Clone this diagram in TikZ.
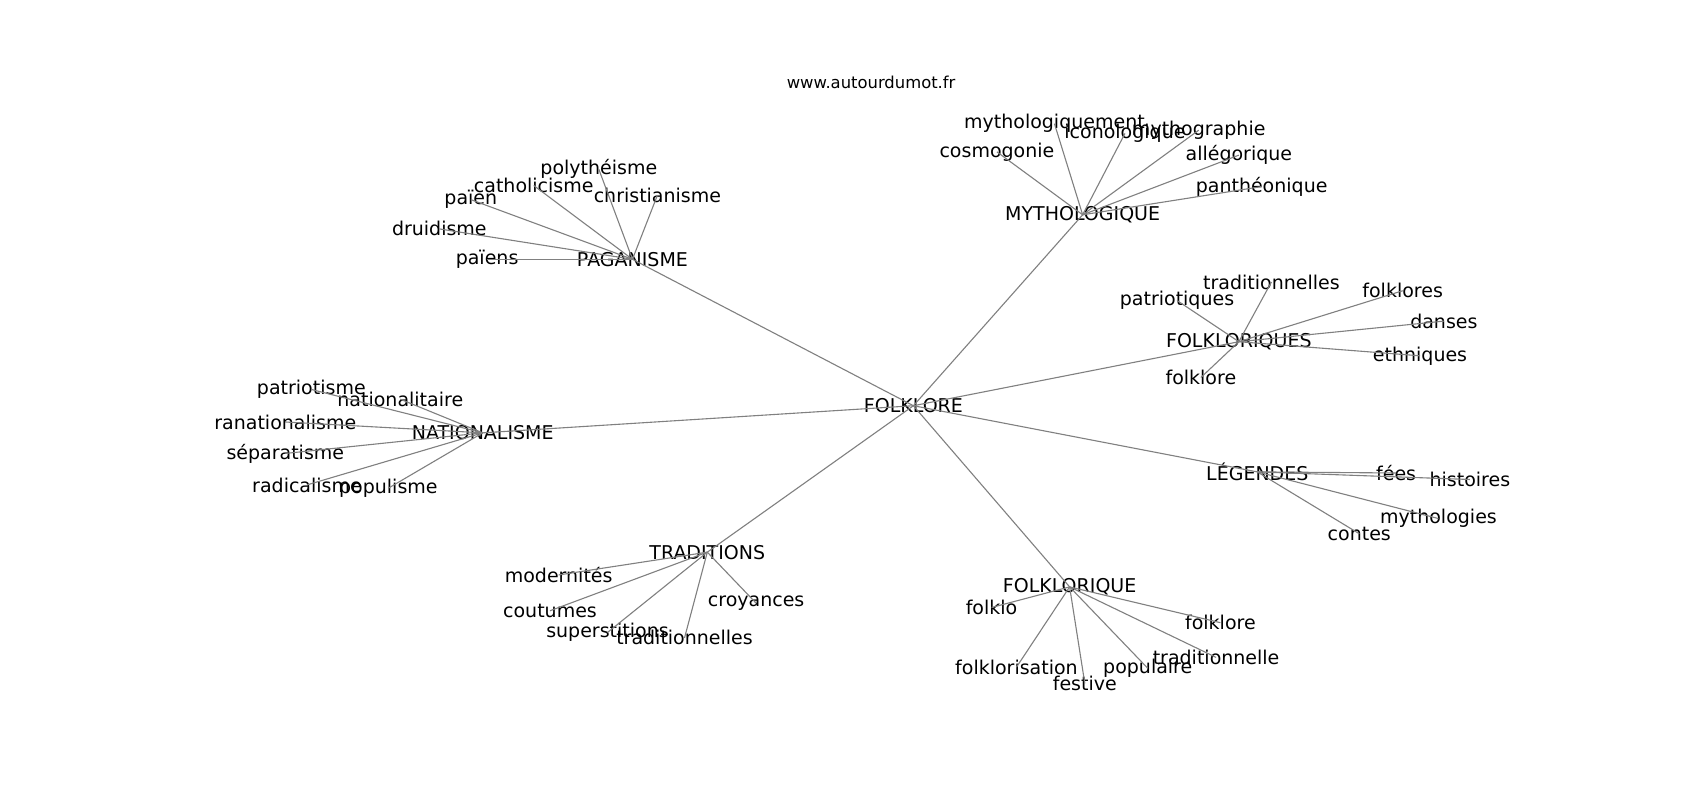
\documentclass[tikz,border=0pt]{standalone}
\usepackage{fontspec}
\setmainfont{DejaVu Sans}
\begin{document}
\begin{tikzpicture}[x=1.0848pt,y=-1.0848pt,
  lbl/.style={inner sep=0pt,anchor=center,font=\fontsize{19}{22}\selectfont,text=black},
  ttl/.style={inner sep=0pt,anchor=center,font=\fontsize{16.4}{19}\selectfont,text=black},
  edge/.style={draw=gray,line width=1.1pt}]
\useasboundingbox (0,0) rectangle (1567.1,737.5);
\fill[white] (0,0) rectangle (1567.1,737.5);
\node[ttl] (title) at (803,76) {www.autourdumot.fr};
% center and hubs
\node[lbl] (folk) at (842,374) {FOLKLORE};
\node[lbl] (pag) at (583,239) {PAGANISME};
\node[lbl] (myth) at (998,198) {MYTHOLOGIQUE};
\node[lbl] (fqs) at (1142,315) {FOLKLORIQUES};
\node[lbl] (leg) at (1159,435) {LÉGENDES};
\node[lbl] (fq) at (986,541) {FOLKLORIQUE};
\node[lbl] (trad) at (652,509) {TRADITIONS};
\node[lbl] (nat) at (445,399) {NATIONALISME};
% PAGANISME leaves
\node[lbl] (p1) at (552,156) {polythéisme};
\node[lbl] (p2) at (492,171) {catholicisme};
\node[lbl] (p3) at (606,180) {christianisme};
\node[lbl] (p4) at (434,184) {païen};
\node[lbl] (p5) at (405,211) {druidisme};
\node[lbl] (p6) at (449,239) {païens};
% MYTHOLOGIQUE leaves
\node[lbl] (m1) at (972,114) {mythologiquement};
\node[lbl] (m2) at (1037,123) {iconologique};
\node[lbl] (m3) at (1105,120) {mythographie};
\node[lbl] (m4) at (1142,143) {allégorique};
\node[lbl] (m5) at (1163,172) {panthéonique};
\node[lbl] (m6) at (919,140) {cosmogonie};
% FOLKLORIQUES leaves
\node[lbl] (s1) at (1172,260) {traditionnelles};
\node[lbl] (s2) at (1085,277) {patriotiques};
\node[lbl] (s3) at (1293,268) {folklores};
\node[lbl] (s4) at (1331,296) {danses};
\node[lbl] (s5) at (1309,328) {ethniques};
\node[lbl] (s6) at (1107,348) {folklore};
% LÉGENDES leaves
\node[lbl] (l1) at (1287,436) {fées};
\node[lbl] (l2) at (1355,442) {histoires};
\node[lbl] (l3) at (1326,478) {mythologies};
\node[lbl] (l4) at (1253,492) {contes};
% FOLKLORIQUE leaves
\node[lbl] (q1) at (914,560) {folklo};
\node[lbl] (q2) at (1125,574) {folklore};
\node[lbl] (q3) at (1121,606) {traditionnelle};
\node[lbl] (q4) at (1058,616) {populaire};
\node[lbl] (q5) at (1000,630) {festive};
\node[lbl] (q6) at (937,615) {folklorisation};
% TRADITIONS leaves
\node[lbl] (t1) at (515,530) {modernités};
\node[lbl] (t2) at (507,563) {coutumes};
\node[lbl] (t3) at (560,583) {superstitions};
\node[lbl] (t4) at (631,588) {traditionnelles};
\node[lbl] (t5) at (697,556) {croyances};
% NATIONALISME leaves
\node[lbl] (n1) at (287,359) {patriotisme};
\node[lbl] (n2) at (369,368) {nationalitaire};
\node[lbl] (n3) at (263,389) {ranationalisme};
\node[lbl] (n4) at (263,418) {séparatisme};
\node[lbl] (n5) at (283,447) {radicalisme};
\node[lbl] (n6) at (358,450) {populisme};
% edges
\foreach \h in {pag,myth,fqs,leg,fq,trad,nat}
  \draw[edge] (folk.center) -- (\h.center);
\foreach \l in {p1,p2,p3,p4,p5,p6}
  \draw[edge] (pag.center) -- (\l.center);
\foreach \l in {m1,m2,m3,m4,m5,m6}
  \draw[edge] (myth.center) -- (\l.center);
\foreach \l in {s1,s2,s3,s4,s5,s6}
  \draw[edge] (fqs.center) -- (\l.center);
\foreach \l in {l1,l2,l3,l4}
  \draw[edge] (leg.center) -- (\l.center);
\foreach \l in {q1,q2,q3,q4,q5,q6}
  \draw[edge] (fq.center) -- (\l.center);
\foreach \l in {t1,t2,t3,t4,t5}
  \draw[edge] (trad.center) -- (\l.center);
\foreach \l in {n1,n2,n3,n4,n5,n6}
  \draw[edge] (nat.center) -- (\l.center);
\end{tikzpicture}
\end{document}
